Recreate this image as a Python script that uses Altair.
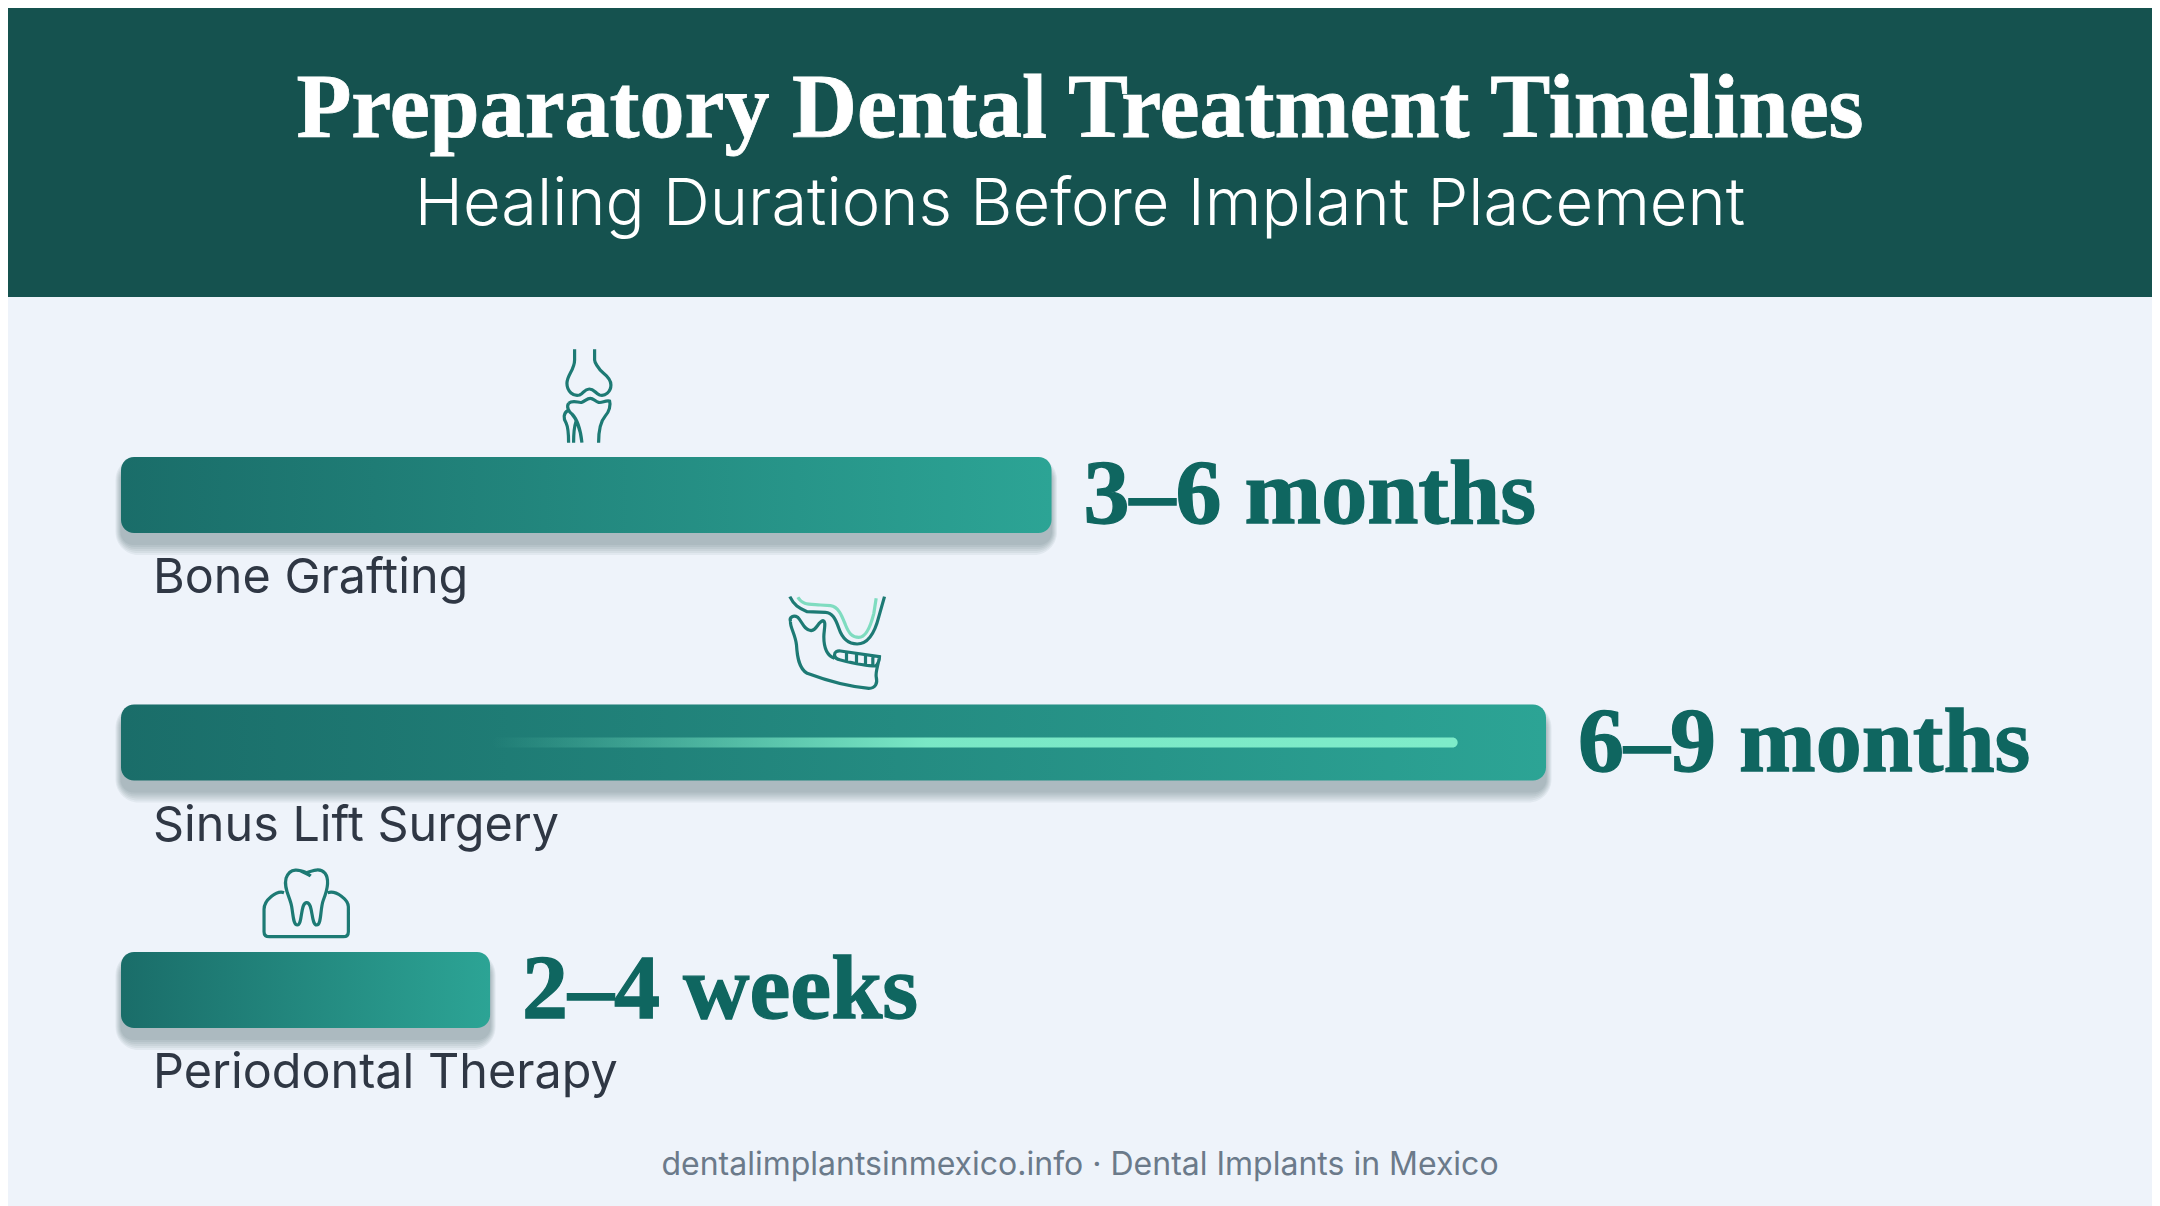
import altair as alt
import pandas as pd

categories = ["Bone Grafting", "Sinus Lift Surgery", "Periodontal Therapy"]
durations = ["3–6 months", "6–9 months", "2–4 weeks"]
bar_lengths = [65.3, 100.0, 25.9]
highlight_start = [26.0]
highlight_end = [93.8]

TITLE = "Preparatory Dental Treatment Timelines"
SUBTITLE = "Healing Durations Before Implant Placement"
FOOTER = "dentalimplantsinmexico.info · Dental Implants in Mexico"

W, H = 2144, 1198
PX = 14.25  # pixels per length unit
LEFT = 113
x_scale = alt.Scale(domain=[-LEFT / PX, (W - LEFT) / PX], range=[0, W], nice=False, zero=False)
y_scale = alt.Scale(type="point", domain=categories, range=[487, 982], padding=0)

df = pd.DataFrame({"category": categories, "duration": durations, "length": bar_lengths})
df["start"] = 0.0
df["center"] = df["length"] / 2
hl = pd.DataFrame({"category": [categories[1]], "a": highlight_start, "b": highlight_end})

X = alt.X("start:Q", scale=x_scale, axis=None)
X2 = alt.X2("length:Q")
Y = alt.Y("category:N", scale=y_scale, axis=None)
BAR_H = 76

layers = []
layers.append(
    alt.Chart(df).mark_rect(color="#15524f").encode(
        x=alt.value(0), x2=alt.value(W), y=alt.value(0), y2=alt.value(289)
    )
)
# soft drop shadow
for k in [11, 9, 7, 5, 3, 1]:
    layers.append(
        alt.Chart(df).mark_bar(
            color="#1a3436", opacity=0.055, height=BAR_H + 2 * k, cornerRadius=12 + k,
            yOffset=11, xOffset=-0.5 * k, x2Offset=0.5 * k,
        ).encode(x=X, x2=X2, y=Y)
    )
bar_grad = alt.Gradient(
    gradient="linear", x1=0, x2=1, y1=0, y2=0,
    stops=[alt.GradientStop(offset=0, color="#1a6d69"), alt.GradientStop(offset=1, color="#2ca495")],
)
layers.append(
    alt.Chart(df).mark_bar(color=bar_grad, height=BAR_H, cornerRadius=13).encode(x=X, x2=X2, y=Y)
)
hl_grad = alt.Gradient(
    gradient="linear", x1=0, x2=1, y1=0, y2=0,
    stops=[
        alt.GradientStop(offset=0, color="rgba(126,236,201,0)"),
        alt.GradientStop(offset=0.45, color="rgba(126,236,201,0.95)"),
        alt.GradientStop(offset=1, color="rgba(126,236,201,1)"),
    ],
)
layers.append(
    alt.Chart(hl).mark_bar(color=hl_grad, height=10, cornerRadius=5).encode(
        x=alt.X("a:Q", scale=x_scale, axis=None), x2=alt.X2("b:Q"), y=Y
    )
)
# value and category labels
layers.append(
    alt.Chart(df).mark_text(
        font="Liberation Serif", fontWeight="bold", fontSize=92, color="#0f6660",
        stroke="#0f6660", strokeWidth=1.3,
        align="left", baseline="alphabetic", dx=32, dy=28,
    ).encode(x=alt.X("length:Q", scale=x_scale, axis=None), y=Y, text="duration:N")
)
layers.append(
    alt.Chart(df).mark_text(
        font="Inter", fontSize=48.5, color="#2f3744",
        align="left", baseline="alphabetic", dx=32, dy=98,
    ).encode(x=X, y=Y, text="category:N")
)

# icons: SVG outlines, drawn at 1/3 scale around the middle of each bar
knee = ("M103,28 L103,60 C103,90 80,105 80,130 C80,155 100,170 118,165 C130,160 132,147 147,147 "
        "C162,147 165,160 178,165 C195,170 212,155 212,135 C212,122 205,112 190,100 C172,85 163,65 163,60 L163,28 "
        "M85,190 C100,178 115,190 125,187 C135,183 140,175 150,175 C160,175 165,185 175,187 C185,190 195,180 208,183 "
        "C212,195 207,215 195,228 C180,245 175,270 175,308 "
        "M85,190 C78,200 85,215 95,222 C105,232 120,260 125,308 "
        "M82,212 C70,220 68,235 78,250 C85,265 85,290 85,308 M107,245 C100,265 100,290 100,308")
jaw_dark = ("M148,50 C160,75 175,85 200,95 L255,97 C275,98 285,115 295,145 C305,175 325,192 350,192 "
            "C385,192 405,150 415,110 L432,50 "
            "M150,125 C145,110 160,105 172,112 C185,125 190,150 212,152 C230,150 232,125 248,122 "
            "C258,125 250,150 250,170 C250,195 255,225 282,235 "
            "M150,125 C148,140 165,165 168,195 C170,230 175,265 200,280 C240,295 320,320 385,325 "
            "C405,325 412,310 407,290 C405,275 412,260 417,230 "
            "M282,225 C282,215 290,212 300,213 L417,230 C417,240 412,255 405,258 C380,258 340,250 300,240 "
            "C290,238 283,235 282,225 Z M318,217 L318,245 M348,222 L348,252 M375,225 L375,256 M397,228 L397,258")
jaw_light = ("M172,52 C185,75 205,72 240,75 L270,77 C295,80 305,110 315,135 C325,160 335,172 355,172 "
             "C375,172 390,140 400,100 L407,55")
tooth = ("M200,68 C180,60 150,50 138,85 C130,115 150,140 155,170 C160,200 160,225 172,225 "
         "C188,225 180,158 200,158 C220,158 212,225 230,225 C245,225 240,175 250,150 "
         "C262,120 270,90 255,70 C240,52 220,62 200,68 Z M180,62 C195,70 205,72 212,78 "
         "M132,128 C110,120 72,150 72,178 L72,245 C72,255 78,260 88,260 L310,260 "
         "C320,260 325,255 325,245 L325,170 C325,150 290,120 263,128")
icon_specs = [
    (categories[0], knee, "#1d7a74", -46, -155),
    (categories[1], jaw_light, "#7fdcc0", -93, -162.5),
    (categories[1], jaw_dark, "#1d7a74", -93, -162.5),
    (categories[2], tooth, "#1d7a74", -65.5, -140),
]
for cat, path, col, ox, oy in icon_specs:
    layers.append(
        alt.Chart(df[df["category"] == cat]).mark_point(
            shape=path, size=4 / 9, filled=False, stroke=col, strokeWidth=3.2, opacity=1,
            xOffset=ox, yOffset=oy,
        ).encode(x=alt.X("center:Q", scale=x_scale, axis=None), y=Y)
    )

def fixed_text(text, y, **kw):
    return alt.Chart(pd.DataFrame({"t": [text]})).mark_text(
        align="center", baseline="alphabetic", **kw
    ).encode(x=alt.value(1072), y=alt.value(y), text="t:N")

layers.append(fixed_text(TITLE, 129, font="Liberation Serif", fontWeight="bold", fontSize=90,
                         color="#ffffff", stroke="#ffffff", strokeWidth=0.8))
layers.append(fixed_text(SUBTITLE, 217, font="Inter", fontWeight=300, fontSize=65, color="#ffffff"))
layers.append(fixed_text(FOOTER, 1167, font="Inter", fontSize=32, color="#6b7a8a"))

chart = alt.layer(*layers).properties(
    width=W, height=H, padding=0, autosize="none", background="#eef3fa"
).configure_view(stroke=None)

chart.save("out.html", embed_options={"renderer": "svg", "actions": False})
